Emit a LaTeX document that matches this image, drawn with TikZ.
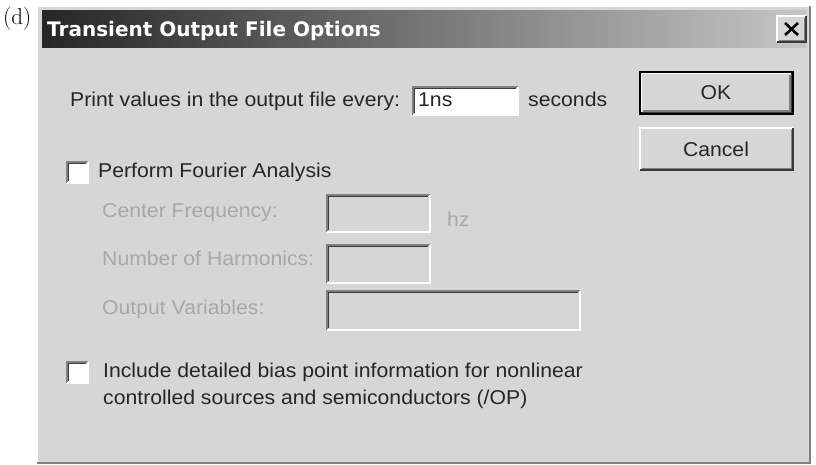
\documentclass[tikz,border=0pt]{standalone}
\usepackage{fontspec}
\newfontfamily\uifont[FakeStretch=1.06]{Liberation Sans}
\newfontfamily\titlefont{DejaVu Sans}
\definecolor{face}{HTML}{D6D6D6}
\definecolor{shadowc}{HTML}{808080}
\definecolor{darkc}{HTML}{3A3A3A}
\definecolor{disabledc}{HTML}{A8A8A8}
\definecolor{textc}{HTML}{262626}
\definecolor{tdark}{HTML}{262626}
\definecolor{tmid}{HTML}{5A5A5A}
\definecolor{tlight}{HTML}{C6C6C6}
\tikzset{
  ui/.style={font=\uifont\fontsize{20}{24}\selectfont, text=textc, inner sep=0pt, anchor=base west},
  dis/.style={ui, text=disabledc},
  btn/.style={font=\uifont\fontsize{20}{24}\selectfont, text=textc, inner sep=0pt, anchor=center},
}
\newcommand\sunkenbox[5]{%
  \fill[#5] (#1,#2) rectangle (#3,#4);
  \draw[shadowc, line width=1.3pt] (#1,#4) -- (#1,#2) -- (#3,#2);
  \draw[darkc, line width=1.3pt] (#1+1.6,#4-1.6) -- (#1+1.6,#2+1.6) -- (#3-1.6,#2+1.6);
  \draw[white, line width=1.3pt] (#1,#4) -- (#3,#4) -- (#3,#2);
}
\newcommand\raisedbox[4]{%
  \fill[face] (#1,#2) rectangle (#3,#4);
  \draw[white, line width=1.3pt] (#1,#4) -- (#1,#2) -- (#3,#2);
  \draw[darkc, line width=1.3pt] (#1,#4) -- (#3,#4) -- (#3,#2);
  \draw[shadowc, line width=1.3pt] (#1+1.6,#4-1.6) -- (#3-1.6,#4-1.6) -- (#3-1.6,#2+1.6);
}
\begin{document}
\begin{tikzpicture}[x=1pt,y=-1pt]
\useasboundingbox (0,0) rectangle (816,465);
\fill[white] (0,0) rectangle (816,465);
% label
\node[font=\fontsize{23}{26}\selectfont, inner sep=0pt, anchor=base west] (lbl) at (3,25) {(d)};
% window
\fill[face] (37,6) rectangle (810,463);
\draw[white, line width=1.3pt] (37,463) -- (37,6) -- (810,6);
\draw[shadowc, line width=1.3pt] (37,463) -- (810,463) -- (810,6);
% title bar
\shade[left color=tdark, right color=tlight] (42,11) rectangle (806,48);
\node[font=\titlefont\bfseries\fontsize{20}{24}\selectfont, text=white, inner sep=0pt, anchor=base west] (title) at (47,37) {Transient Output File Options};
% close button
\raisedbox{777}{16}{806}{42}
\draw[black, line width=2.6pt] (785,23) -- (798,35);
\draw[black, line width=2.6pt] (785,35) -- (798,23);
% first row
\node[ui] (every) at (70,107) {Print values in the output file every:};
\sunkenbox{413}{87}{518}{115}{white}
\node[ui] (val) at (418,107) {1ns};
\node[ui] (sec) at (528,107) {seconds};
% buttons
\fill[black] (639,71) rectangle (794,115);
\raisedbox{641.5}{73.5}{791.5}{112.5}
\node[btn] (ok) at (716,93) {OK};
\raisedbox{640}{128}{793}{170}
\node[btn] (cancel) at (716,149) {Cancel};
% fourier
\sunkenbox{67}{162}{88}{183}{white}
\node[ui] (four) at (98,178) {Perform Fourier Analysis};
\node[dis] (cf) at (102,217) {Center Frequency:};
\sunkenbox{327}{195}{430}{232}{face}
\node[dis] (hz) at (447,226) {hz};
\node[dis] (nh) at (102,265) {Number of Harmonics:};
\sunkenbox{327}{245}{430}{283}{face}
\node[dis] (ov) at (102,314) {Output Variables:};
\sunkenbox{327}{291}{580}{330}{face}
% bias point
\sunkenbox{67}{362}{88}{383}{white}
\node[ui] (inc1) at (103,377) {Include detailed bias point information for nonlinear};
\node[ui] (inc2) at (103,404) {controlled sources and semiconductors (/OP)};
\end{tikzpicture}
\end{document}
